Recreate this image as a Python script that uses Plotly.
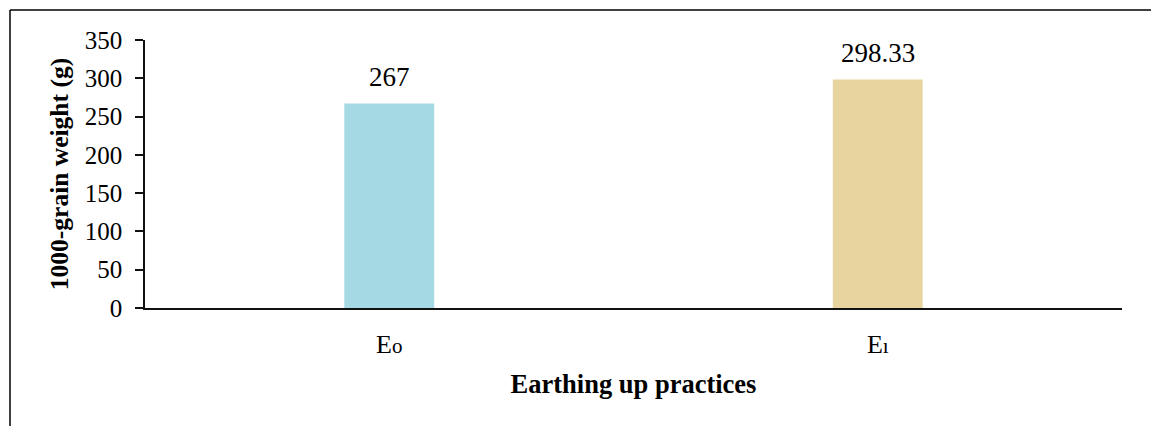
import plotly.graph_objects as go

# Earthing-up treatments and their 1000-grain weights
practices = ["E0", "E1"]
grain_weight = [267, 298.33]
value_labels = ["267", "298.33"]
bar_colors = ["#a5dae4", "#e8d49e"]
tick_text = ["E<span style='font-size:21px'>o</span>", "E<span style='font-size:21px'>ı</span>"]
y_ticks = [0, 50, 100, 150, 200, 250, 300, 350]

W, H = 1151, 426
ML, MR, MT, MB = 145, 29, 40, 118
pw, ph = W - ML - MR, H - MT - MB

fig = go.Figure(
    go.Bar(
        x=practices,
        y=grain_weight,
        marker=dict(color=bar_colors, line=dict(width=0)),
        width=0.184,
        hoverinfo="skip",
    )
)

# value labels just above each bar
for cat, val, lab in zip(practices, grain_weight, value_labels):
    fig.add_annotation(x=cat, y=val, text=lab, showarrow=False, yanchor="bottom",
                       yshift=10, font=dict(family="Liberation Serif", size=27, color="#000000"))

# outer frame lines (left and top edges)
fx = (10 - ML) / pw
fy = (H - MB - 10) / ph
fig.add_shape(type="line", xref="paper", yref="paper", x0=fx, x1=fx, y0=fy, y1=(H - MB - 440) / ph,
              line=dict(color="#000000", width=1.5))
fig.add_shape(type="line", xref="paper", yref="paper", x0=fx, x1=(W + 5 - ML) / pw, y0=fy, y1=fy,
              line=dict(color="#000000", width=1.5))

fig.update_layout(
    width=W,
    height=H,
    margin=dict(l=ML, r=MR, t=MT, b=MB, pad=0),
    paper_bgcolor="#ffffff",
    plot_bgcolor="#ffffff",
    showlegend=False,
    font=dict(family="Liberation Serif", size=25, color="#000000"),
    xaxis=dict(
        tickvals=practices,
        ticktext=tick_text,
        showline=True,
        linecolor="#111111",
        linewidth=2,
        ticks="",
        showgrid=False,
        ticklabelstandoff=12,
        tickfont=dict(family="Liberation Serif", size=26),
        title=dict(text="<b>Earthing up practices</b>", standoff=16,
                   font=dict(family="Liberation Serif", size=26.5)),
    ),
    yaxis=dict(
        range=[0, 350],
        tickvals=y_ticks,
        showline=True,
        linecolor="#111111",
        linewidth=1.5,
        ticks="outside",
        ticklen=8,
        tickwidth=1.5,
        tickcolor="#111111",
        showgrid=False,
        zeroline=False,
        ticklabelstandoff=8,
        tickfont=dict(family="Liberation Serif", size=25),
        title=dict(text="<b>1000-grain weight (g)</b>", standoff=9,
                   font=dict(family="Liberation Serif", size=25.5)),
    ),
)

fig.write_html("out.html")
